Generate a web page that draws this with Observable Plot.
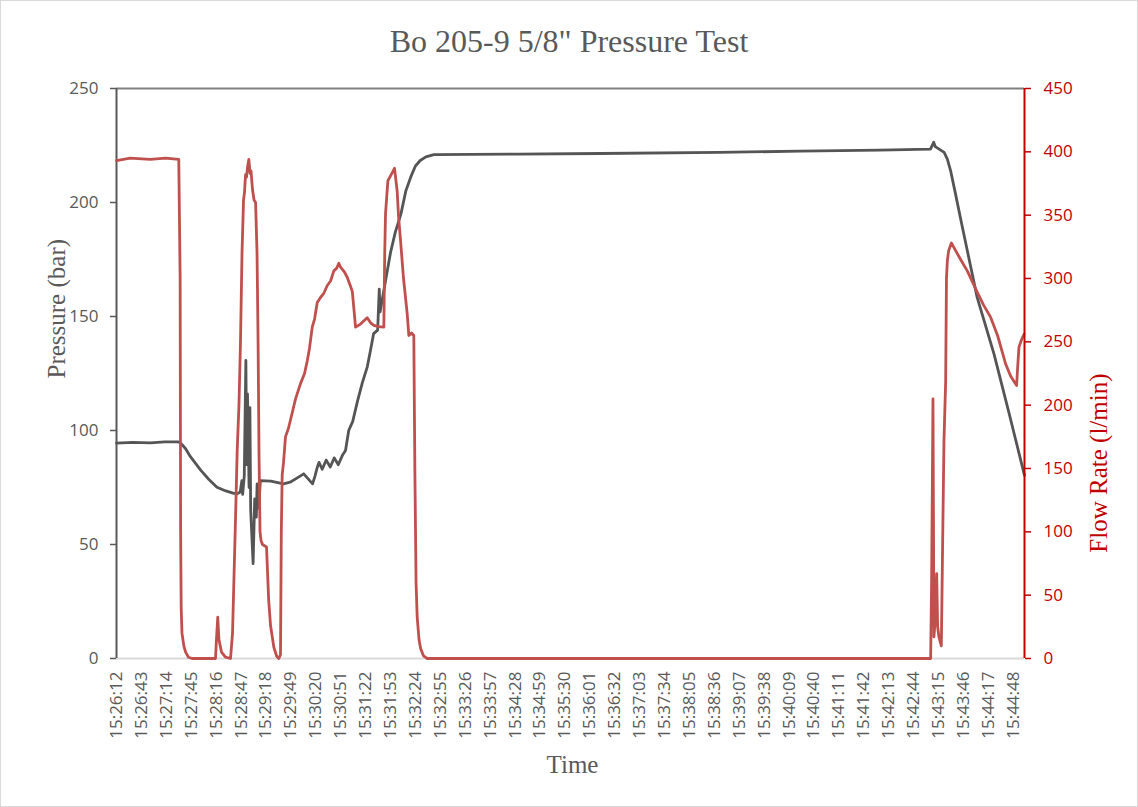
<!DOCTYPE html>
<html><head><meta charset="utf-8">
<script src="https://cdn.jsdelivr.net/npm/d3@7"></script>
<script src="https://cdn.jsdelivr.net/npm/@observablehq/plot@0.6"></script>
<style>
html,body{margin:0;padding:0;background:#fff;}
#chart{position:relative;width:1138px;height:807px;}
#frame{position:absolute;left:0;top:0;width:1136px;height:805px;border:1px solid #d9d9d9;}
#chart svg{position:absolute;left:0;top:0;}
#title{position:absolute;left:0;width:1138px;top:25px;text-align:center;font-family:"Liberation Serif",serif;font-size:32px;line-height:32px;color:#595959;white-space:nowrap;}
</style></head><body>
<div id="chart"><div id="frame"></div><div id="title">Bo 205-9 5/8" Pressure Test</div></div>
<script>
// ---- data ----
const timeLabels = ["15:26:12","15:26:43","15:27:14","15:27:45","15:28:16","15:28:47","15:29:18","15:29:49","15:30:20","15:30:51","15:31:22","15:31:53","15:32:24","15:32:55","15:33:26","15:33:57","15:34:28","15:34:59","15:35:30","15:36:01","15:36:32","15:37:03","15:37:34","15:38:05","15:38:36","15:39:07","15:39:38","15:40:09","15:40:40","15:41:11","15:41:42","15:42:13","15:42:44","15:43:15","15:43:46","15:44:17","15:44:48"];
const pressureTicks = [0, 50, 100, 150, 200, 250];
const flowTicks = [0, 50, 100, 150, 200, 250, 300, 350, 400, 450];
// [seconds since 15:26:12, pressure (bar)]
const pressureSeries = [[0,94.5],[20,94.8],[42,94.6],[60,95],[77,95],[80,94.5],[86,92],[92,88.5],[105,82.5],[115,78.5],[125,75.1],[136,73.5],[145,72.5],[150,72.2],[154,73],[156,78],[157,72],[159,80],[161,130.7],[162,85],[163,116],[165,75],[166,110],[167,65],[170,41.6],[172,70],[174,62],[175,76.6],[177,66],[179,78],[192,77.8],[208,76.6],[217,77.5],[224,79],[233,81],[238,79],[244,76.6],[247,80],[250,84],[252,86],[256,83],[261,87],[266,84],[271,88],[276,85],[281,89],[285,91.2],[289,100],[294,104],[300,113],[306,121],[312,127.8],[316,135],[320,142.5],[325,144],[327,162],[328,152],[335,166],[341,178],[347,187],[354,195],[360,205],[366,211],[372,216],[378,218.4],[385,220],[395,221],[500,221.2],[602,221.5],[750,222],[851,222.5],[950,223],[1013,223.4],[1017,226.4],[1019,224.5],[1030,222],[1034,219],[1038,214],[1044,204],[1051,192],[1071,158.5],[1092,133.6],[1111,107.3],[1130,80.3]];
// [seconds since 15:26:12, flow rate (l/min)]
const flowSeries = [[0,393],[17,395],[42,394],[61,395],[77.5,394],[79.2,300],[79.8,100],[80.5,40],[81.5,20],[83.8,10],[86,5],[89.6,1],[94.2,0],[123.2,0],[124.4,15],[126,32.6],[127.5,15],[130.7,5],[135.6,1],[141.9,0],[144.4,20],[146,59],[148.1,110],[150.2,164],[152.4,200],[154.3,250],[156.2,320],[158.1,362],[159.3,368],[160.6,382],[161.8,380],[163.1,388],[164.7,394],[166.2,383],[167.4,385],[169.3,370],[171.2,362],[173.1,360],[174.9,320],[176.2,250],[177.4,160],[178.6,100],[179.9,93],[181.7,90],[186.7,88],[189.4,46],[191.7,26],[195.8,9],[199.2,2],[202,0],[204.1,3],[205.1,100],[206.2,145],[207.9,155],[210.3,175],[214.1,182],[218.7,194],[222.8,205],[229,217],[234,225],[237.4,235],[240.2,245],[243.6,261.6],[246.5,268],[249.8,281],[253.9,285],[257.7,288],[262.3,294.5],[266.4,298],[270.5,306],[273.9,308],[276.7,312],[278.8,309],[281.3,307],[283.8,305],[287.1,301],[290,296],[293.4,290],[295.6,275],[297.5,261.6],[303.7,264],[312,269],[316.2,265],[320.3,263],[326.1,262],[332.7,261.6],[333.8,320],[334.8,351],[337.7,377],[341,381],[343.5,384],[346,387],[349.3,369],[350.9,350],[353.5,330],[357.2,300],[361.8,272],[363.8,255],[367.2,257],[370,255],[371.3,150],[372.8,60],[374.2,32.6],[376.5,15],[378.4,8],[382.1,2],[386.7,0],[1013.2,0],[1014.4,60],[1016.1,205],[1017.3,17],[1018.8,30],[1020.7,67],[1021.9,25],[1023.5,17],[1026.5,10],[1028.1,90],[1029.8,172],[1031.9,219],[1032.9,300],[1034,314],[1035.6,322],[1039,328],[1044.3,322],[1050.5,315],[1058.8,306],[1071.3,289],[1079.1,279],[1087.8,269.5],[1096.5,255],[1106.5,232.6],[1112.7,223],[1120.2,215.5],[1121.5,230],[1123.1,245.8],[1126.5,252],[1129.4,256]];

// ---- layout ----
const toSec = s => { const [h, m, x] = s.split(":").map(Number); return h * 3600 + m * 60 + x; };
const t0 = toSec(timeLabels[0]);
const tickPos = timeLabels.map(l => toSec(l) - t0);
const labelAt = new Map(tickPos.map((p, i) => [p, timeLabels[i]]));

const W = 1138, H = 807;
const common = {
  width: W, height: H, marginLeft: 116, marginRight: 114, marginTop: 88, marginBottom: 149,
  style: {background: "transparent", maxWidth: "none", overflow: "visible", fontFamily: "'Open Sans', sans-serif", fontSize: "17px"}
};
const xDomain = [0, 1130];
const grey = "#595959", red = "#C00000";

const p1 = Plot.plot({
  ...common,
  x: {domain: xDomain},
  y: {domain: [0, 250]},
  marks: [
    Plot.ruleY([250], {stroke: "#808080", strokeWidth: 2}),
    Plot.ruleY([0], {stroke: "#d9d9d9", strokeWidth: 2}),
    Plot.axisX({ticks: tickPos, tickFormat: d => labelAt.get(d), tickRotate: -90, tickSize: 0, tickPadding: 13, color: grey, label: null, fontSize: 17}),
    Plot.axisY({ticks: pressureTicks, tickSize: 6, tickPadding: 12, color: grey, strokeWidth: 1.5, label: null, fontSize: 17}),
    Plot.ruleX([0], {stroke: grey, strokeWidth: 2}),
    Plot.line(pressureSeries, {x: d => d[0], y: d => d[1], stroke: "#555555", strokeWidth: 2.8, strokeLinejoin: "round"}),
    Plot.text(["Pressure (bar)"], {frameAnchor: "left", text: d => d, rotate: -90, dx: -60, dy: 5, fill: grey, fontFamily: "'Liberation Serif', serif", fontSize: 25}),
    Plot.text(["Time"], {frameAnchor: "bottom", text: d => d, dx: 2, dy: 114, fill: grey, fontFamily: "'Liberation Serif', serif", fontSize: 25})
  ]
});

const p2 = Plot.plot({
  ...common,
  x: {domain: xDomain, axis: null},
  y: {domain: [0, 450]},
  marks: [
    Plot.line(flowSeries, {x: d => d[0], y: d => d[1], stroke: "#C0504D", strokeWidth: 2.8, strokeLinejoin: "round"}),
    Plot.ruleX([xDomain[1]], {stroke: red, strokeWidth: 2}),
    Plot.axisY({anchor: "right", ticks: flowTicks, tickSize: 6, tickPadding: 13, color: red, strokeWidth: 1.5, label: null, fontSize: 17}),
    Plot.text(["Flow Rate (l/min)"], {frameAnchor: "right", text: d => d, rotate: -90, dx: 74, fill: red, fontFamily: "'Liberation Serif', serif", fontSize: 25})
  ]
});

const chart = document.getElementById("chart");
chart.appendChild(p1);
chart.appendChild(p2);
</script>
</body></html>
